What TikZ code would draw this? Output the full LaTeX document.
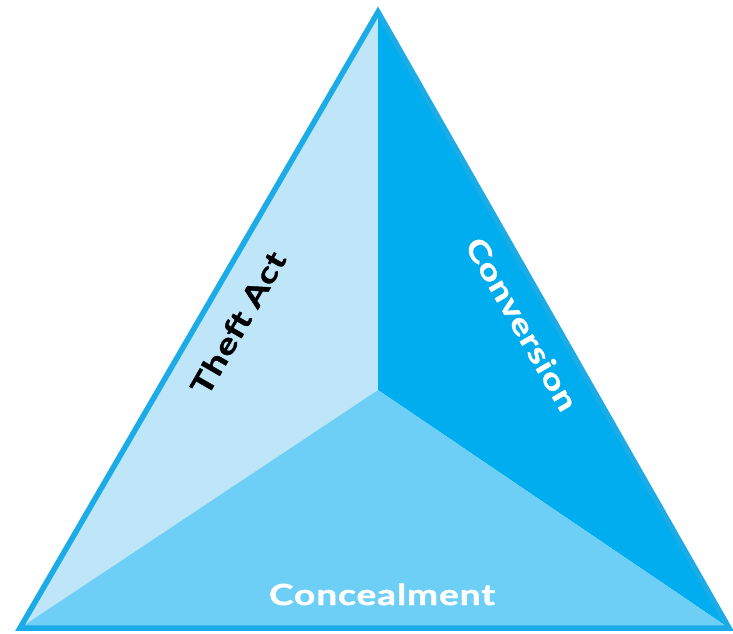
\documentclass[tikz,border=0pt]{standalone}
\usepackage{fontspec}
\setmainfont{Lato}
\newfontfamily\labelfont[FakeStretch=1.28,LetterSpace=3,FakeBold=1.4]{Lato}
\usepackage{tikz}
\usetikzlibrary{calc}

\definecolor{faceLeft}{HTML}{BEE5F8}
\definecolor{faceRight}{HTML}{00ADEE}
\definecolor{faceBottom}{HTML}{6ECFF6}
\definecolor{rim}{HTML}{1BACE8}

\begin{document}
\begin{tikzpicture}[x=1pt,y=-1pt,
    face/.style={draw=none},
    label/.style={font=\labelfont\fontsize{29}{29}\selectfont\bfseries,inner sep=0pt}]
    \useasboundingbox (0,0) rectangle (733,633);
    % corners of the triangle and the inner point
    \coordinate (Top) at (378,12);
    \coordinate (BL) at (20,628);
    \coordinate (BR) at (729,628);
    \coordinate (Mid) at (378,390);
    % the three faces
    \fill[face,faceLeft] (Top) -- (Mid) -- (BL) -- cycle;
    \fill[face,faceRight] (Top) -- (BR) -- (Mid) -- cycle;
    \fill[face,faceBottom] (BL) -- (Mid) -- (BR) -- cycle;
    % rim
    \draw[rim,line width=5.5pt,line join=miter] (Top) -- (BR) -- (BL) -- cycle;
    % labels
    \node[label,text=black,rotate=60] (Theft) at (238,323) {Theft Act};
    \node[label,text=white,rotate=-60] (Conv) at (522,324) {Conversion};
    \node[label,text=white,anchor=base] (Conc) at (382,605) {Concealment};
  \end{tikzpicture}
\end{document}
